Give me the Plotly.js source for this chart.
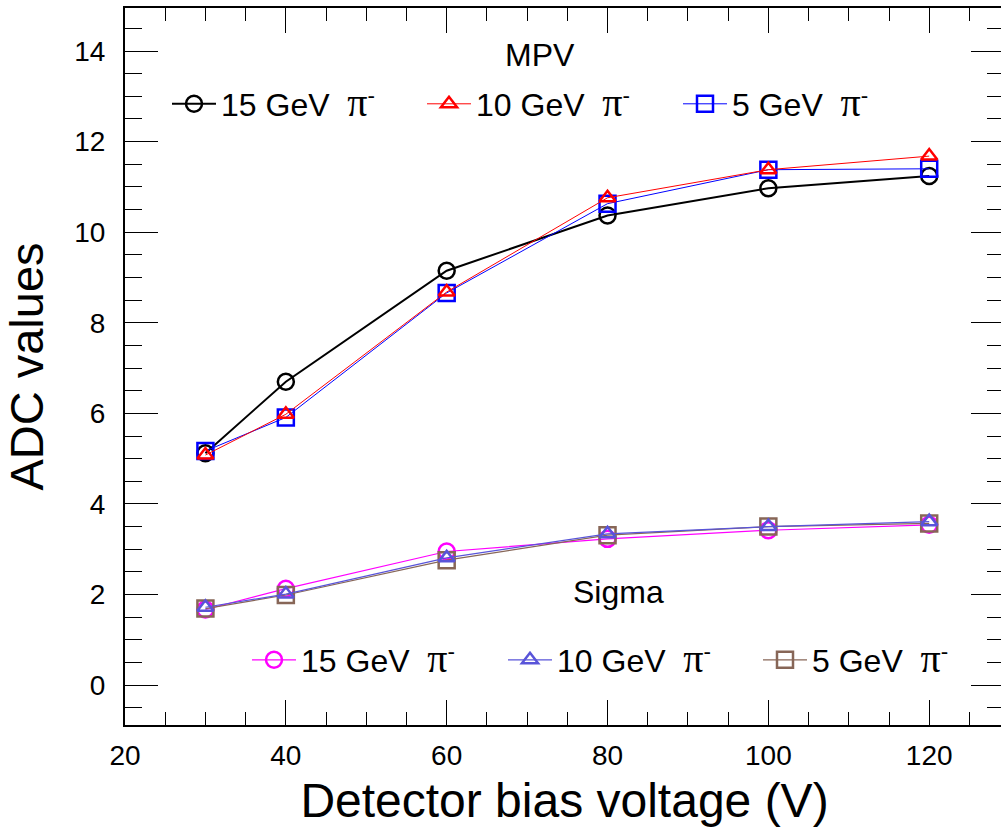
<!DOCTYPE html>
<html>
<head>
<meta charset="utf-8">
<script src="https://cdn.plot.ly/plotly-3.0.1.min.js"></script>
<style>
html, body { margin: 0; padding: 0; overflow: hidden; background: #fff; }
#chart { width: 1004px; height: 833px; }
</style>
</head>
<body>
<div id="chart"></div>
<script>
// Detector bias voltage (V)
const voltage = [30, 40, 60, 80, 100, 120];

// MPV (ADC values)
const mpv15 = [5.12, 6.70, 9.15, 10.37, 10.97, 11.24];
const mpv10 = [5.08, 5.98, 8.68, 10.76, 11.38, 11.68];
const mpv5  = [5.17, 5.91, 8.66, 10.63, 11.38, 11.40];

// Sigma (ADC values)
const sig15 = [1.67, 2.13, 2.95, 3.23, 3.42, 3.54];
const sig10 = [1.72, 2.01, 2.81, 3.34, 3.50, 3.61];
const sig5  = [1.69, 1.99, 2.76, 3.31, 3.50, 3.57];

const PI = '<span style="font-family:Liberation Serif,Times New Roman,serif;font-size:40px">\u03c0</span><sup>-</sup>';
const labels = ['15 GeV\u00a0\u00a0' + PI, '10 GeV\u00a0\u00a0' + PI, '5 GeV\u00a0\u00a0' + PI];

const FONT = 'Liberation Sans, Arial, Helvetica, sans-serif';

function tr(y, name, color, symbol, lw, mlw, msize, legend) {
  return {
    x: voltage, y: y, name: name, type: 'scatter', mode: 'lines+markers',
    line: {color: color, width: lw},
    marker: {symbol: symbol, size: msize, color: color, line: {color: color, width: mlw}},
    legend: legend
  };
}

const data = [
  tr(mpv15, labels[0], '#000000', 'circle-open', 2, 2.5, 16, 'legend'),
  tr(mpv5,  labels[2], '#0000ff', 'square-open', 1, 2.5, 16, 'legend3'),
  tr(mpv10, labels[1], '#ff0000', 'triangle-up-open', 1, 2.5, 14, 'legend2'),
  tr(sig15, labels[0], '#ff00ff', 'circle-open', 1.2, 2.5, 16, 'legend4'),
  tr(sig5,  labels[2], '#876657', 'square-open', 1.2, 2.5, 16, 'legend6'),
  tr(sig10, labels[1], '#5954d9', 'triangle-up-open', 1.2, 2.5, 14, 'legend5')
];

// plot area in pixels: x 125..1004, y 8..725
const PL = 125, PW = 879, PB = 725, PH = 717;
function leg(px, py) {
  return {
    orientation: 'h', bgcolor: 'rgba(0,0,0,0)', borderwidth: 0,
    font: {family: FONT, size: 32, color: '#000'},
    itemwidth: 44, xanchor: 'left', yanchor: 'middle',
    x: (px - PL) / PW, y: (PB - py) / PH
  };
}

const layout = {
  width: 1004, height: 833,
  margin: {l: 125, r: 0, t: 8, b: 108},
  paper_bgcolor: '#ffffff', plot_bgcolor: '#ffffff',
  font: {family: FONT, color: '#000'},
  showlegend: true,
  legend:  leg(167, 104),
  legend2: leg(422, 104),
  legend3: leg(678, 104),
  legend4: leg(247, 660),
  legend5: leg(503, 660),
  legend6: leg(758, 660),
  xaxis: {
    range: [20, 129.3], tickmode: 'linear', tick0: 20, dtick: 20,
    ticks: 'inside', ticklen: 25, tickwidth: 1, tickcolor: '#000',
    minor: {dtick: 5, ticklen: 13, tickwidth: 1, tickcolor: '#000', ticks: 'inside', showgrid: false},
    showline: true, linecolor: '#000', linewidth: 2, mirror: 'allticks',
    showgrid: false, zeroline: false,
    tickfont: {family: FONT, size: 28, color: '#000'},
    ticklabelstandoff: 4,
    title: {text: 'Detector bias voltage (V)', font: {family: FONT, size: 48, color: '#000'}, standoff: 14}
  },
  yaxis: {
    range: [-0.88, 14.95], tickmode: 'linear', tick0: 0, dtick: 2,
    ticks: 'inside', ticklen: 33, tickwidth: 1, tickcolor: '#000',
    minor: {dtick: 0.5, ticklen: 17, tickwidth: 1, tickcolor: '#000', ticks: 'inside', showgrid: false},
    showline: true, linecolor: '#000', linewidth: 2, mirror: 'allticks',
    showgrid: false, zeroline: false,
    tickfont: {family: FONT, size: 28, color: '#000'},
    ticklabelstandoff: 12,
    title: {text: 'ADC values', font: {family: FONT, size: 47, color: '#000'}, standoff: 16}
  },
  annotations: [
    {text: 'MPV', xref: 'paper', yref: 'paper', x: (540 - PL) / PW, y: (PB - 55) / PH, showarrow: false,
     xanchor: 'center', yanchor: 'middle', font: {family: FONT, size: 32, color: '#000'}},
    {text: 'Sigma', xref: 'paper', yref: 'paper', x: (618 - PL) / PW, y: (PB - 592) / PH, showarrow: false,
     xanchor: 'center', yanchor: 'middle', font: {family: FONT, size: 32, color: '#000'}}
  ]
};

Plotly.newPlot('chart', data, layout, {displayModeBar: false, staticPlot: true});
</script>
</body>
</html>
